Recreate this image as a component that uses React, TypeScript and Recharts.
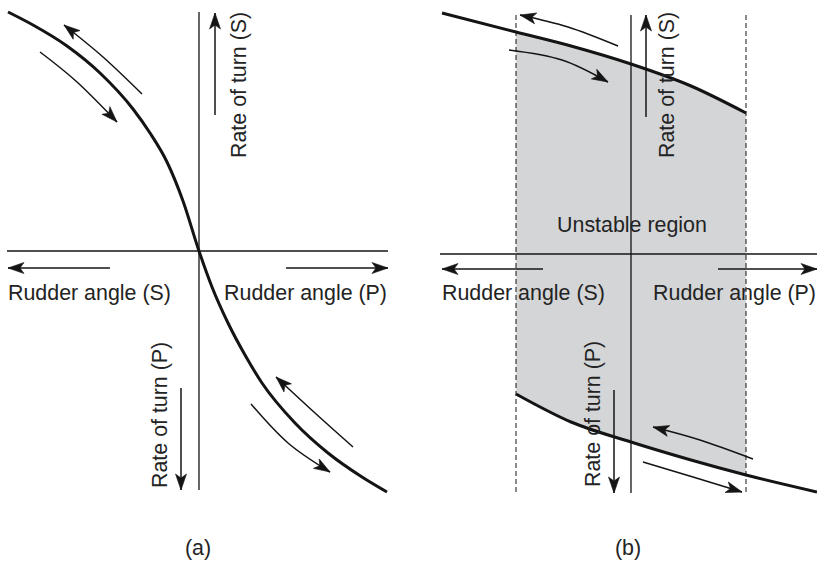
import { Area, ComposedChart, Line, ReferenceLine, Scatter, XAxis, YAxis } from "recharts";

const FONT = '"Liberation Sans", Arial, Helvetica, sans-serif';
const INK = "#141414";
const TEXT = "#232323";
const SHADE = "#d4d5d7";

// (a) rate of turn against rudder angle, origin at the axis crossing
const curveA = [
  { x: -191, y: 239 }, { x: -166, y: 226 }, { x: -132, y: 205 }, { x: -99, y: 178 },
  { x: -66, y: 142 }, { x: -49, y: 118 }, { x: -32, y: 89 }, { x: -16, y: 50 },
  { x: 0, y: 0 }, { x: 13, y: -36 }, { x: 29, y: -72 }, { x: 46, y: -104 },
  { x: 63, y: -132 }, { x: 96, y: -172 }, { x: 129, y: -202 }, { x: 163, y: -226 },
  { x: 188, y: -241 },
];

// tail -> head
const arrowsA = [
  [{ x: -57, y: 157 }, { x: -96, y: 194 }, { x: -135, y: 226 }],
  [{ x: -159, y: 199 }, { x: -122, y: 169 }, { x: -82, y: 129 }],
  [{ x: 154, y: -196 }, { x: 116, y: -162 }, { x: 77, y: -126 }],
  [{ x: 52, y: -153 }, { x: 89, y: -192 }, { x: 131, y: -221 }],
];

const axisArrowsA = [
  [{ x: -89, y: -17 }, { x: -191, y: -17 }],
  [{ x: 87, y: -17 }, { x: 189, y: -17 }],
  [{ x: 16, y: 136 }, { x: 16, y: 238 }],
  [{ x: -18, y: -137 }, { x: -18, y: -239 }],
];

// (b) hysteresis loop
const upperB = [
  { x: -189, y: 241 }, { x: -115, y: 222 }, { x: -60, y: 208 },
  { x: 0, y: 190 }, { x: 60, y: 168 }, { x: 115, y: 141 },
];
const lowerB = [
  { x: -115, y: -140 }, { x: -60, y: -168 }, { x: 0, y: -188 },
  { x: 60, y: -206 }, { x: 115, y: -221 }, { x: 186, y: -238 },
];
const unstableEdges = [-115, 115];

const arrowsB = [
  [{ x: -13, y: 208 }, { x: -63, y: 227 }, { x: -111, y: 239 }],
  [{ x: -122, y: 204 }, { x: -69, y: 194 }, { x: -23, y: 172 }],
  [{ x: 122, y: -205 }, { x: 69, y: -186 }, { x: 22, y: -173 }],
  [{ x: 12, y: -208 }, { x: 62, y: -223 }, { x: 111, y: -238 }],
];

const axisArrowsB = [
  [{ x: -88, y: -15 }, { x: -189, y: -15 }],
  [{ x: 87, y: -15 }, { x: 186, y: -15 }],
  [{ x: 15, y: 137 }, { x: 15, y: 239 }],
  [{ x: -17, y: -136 }, { x: -17, y: -239 }],
];

const band = upperB
  .filter((p) => p.x >= unstableEdges[0])
  .map((p) => ({ x: p.x, range: [lowerB.find((q) => q.x === p.x)!.y, p.y] }));

const margin = { top: 0, right: 0, bottom: 0, left: 0 };

type Pt = { x: number; y: number };

// tip of every arrow plus the direction of the curve there (natural spline end tangent)
function heads(list: Pt[][]) {
  return list.map((pts) => {
    const n = pts.length;
    const a = pts[n - 1];
    const b = pts[n - 2];
    let tx = a.x - b.x;
    let ty = a.y - b.y;
    if (n > 2) {
      const c = pts[n - 3];
      tx = 1.25 * a.x - 1.5 * b.x + 0.25 * c.x;
      ty = 1.25 * a.y - 1.5 * b.y + 0.25 * c.y;
    }
    return { x: a.x, y: a.y, ang: (Math.atan2(-ty, tx) * 180) / Math.PI };
  });
}

const HeadShape = (props: any) => {
  const { cx, cy } = props;
  const ang = props.ang ?? props.payload?.ang ?? 0;
  if (cx == null || cy == null) return <g />;
  return (
    <path
      d="M0,0 L-16,-5.5 L-12,0 L-16,5.5 Z"
      transform={`translate(${cx},${cy}) rotate(${ang})`}
      fill={INK}
      stroke={INK}
      strokeWidth={0.6}
      strokeLinejoin="miter"
    />
  );
};

function arrowLines(list: Pt[][], key: string, width: number) {
  return list.map((pts, i) => (
    <Line
      key={`${key}-${i}`}
      data={pts}
      dataKey="y"
      type={pts.length > 2 ? "natural" : "linear"}
      stroke={INK}
      strokeWidth={width}
      dot={false}
      activeDot={false}
      isAnimationActive={false}
    />
  ));
}

export default function App() {
  return (
    <div style={{ position: "absolute", left: 0, top: 0, width: 817, height: 562, background: "#fff", overflow: "hidden" }}>
      <div style={{ position: "absolute", left: 0, top: 0 }}>
        <ComposedChart width={410} height={562} margin={margin}>
          <XAxis type="number" dataKey="x" domain={[-199, 211]} hide allowDataOverflow />
          <YAxis type="number" dataKey="y" domain={[-311, 251]} hide allowDataOverflow />
          <ReferenceLine segment={[{ x: -192, y: 0 }, { x: 189, y: 0 }]} stroke={INK} strokeWidth={1.3} />
          <ReferenceLine segment={[{ x: 0, y: 239 }, { x: 0, y: -239 }]} stroke={INK} strokeWidth={1.3} />
          <Line
            data={curveA}
            dataKey="y"
            type="monotone"
            stroke={INK}
            strokeWidth={3}
            dot={false}
            activeDot={false}
            isAnimationActive={false}
          />
          {arrowLines(arrowsA, "a", 1.5)}
          {arrowLines(axisArrowsA, "aa", 1.5)}
          <Scatter
            data={heads([...arrowsA, ...axisArrowsA])}
            dataKey="y"
            shape={HeadShape}
            isAnimationActive={false}
          />
        </ComposedChart>
      </div>

      <div style={{ position: "absolute", left: 410, top: 0 }}>
        <ComposedChart width={407} height={562} margin={margin}>
          <XAxis type="number" dataKey="x" domain={[-221, 186]} hide allowDataOverflow />
          <YAxis type="number" dataKey="y" domain={[-308, 254]} hide allowDataOverflow />
          <Area
            data={band}
            dataKey="range"
            type="monotone"
            fill={SHADE}
            fillOpacity={1}
            stroke="none"
            isAnimationActive={false}
          />
          {unstableEdges.map((x) => (
            <ReferenceLine
              key={x}
              segment={[{ x, y: 239 }, { x, y: -239 }]}
              stroke={INK}
              strokeWidth={1}
              strokeDasharray="5 3"
            />
          ))}
          <ReferenceLine segment={[{ x: -191, y: 0 }, { x: 186, y: 0 }]} stroke={INK} strokeWidth={1.3} />
          <ReferenceLine segment={[{ x: 0, y: 239 }, { x: 0, y: -239 }]} stroke={INK} strokeWidth={1.3} />
          <Line
            data={upperB}
            dataKey="y"
            type="monotone"
            stroke={INK}
            strokeWidth={3}
            dot={false}
            activeDot={false}
            isAnimationActive={false}
          />
          <Line
            data={lowerB}
            dataKey="y"
            type="monotone"
            stroke={INK}
            strokeWidth={3}
            dot={false}
            activeDot={false}
            isAnimationActive={false}
          />
          {arrowLines(arrowsB, "b", 1.5)}
          {arrowLines(axisArrowsB, "bb", 1.5)}
          <Scatter
            data={heads([...arrowsB, ...axisArrowsB])}
            dataKey="y"
            shape={HeadShape}
            isAnimationActive={false}
          />
        </ComposedChart>
      </div>

      {/* captions on top of both panels */}
      <svg
        width={817}
        height={562}
        style={{ position: "absolute", left: 0, top: 0, pointerEvents: "none" }}
      >
        <g fontFamily={FONT} fontSize={21.4} fill={TEXT}>
          <text x={8} y={300}>Rudder angle (S)</text>
          <text x={387} y={300} textAnchor="end">Rudder angle (P)</text>
          <text transform="translate(246,158) rotate(-90)">Rate of turn (S)</text>
          <text transform="translate(167,488) rotate(-90)">Rate of turn (P)</text>
          <text x={198} y={555} textAnchor="middle">(a)</text>

          <text x={632} y={232} textAnchor="middle">Unstable region</text>
          <text x={442} y={300}>Rudder angle (S)</text>
          <text x={816} y={300} textAnchor="end">Rudder angle (P)</text>
          <text transform="translate(674,158) rotate(-90)">Rate of turn (S)</text>
          <text transform="translate(600,487) rotate(-90)">Rate of turn (P)</text>
          <text x={628} y={555} textAnchor="middle">(b)</text>
        </g>
      </svg>
    </div>
  );
}
